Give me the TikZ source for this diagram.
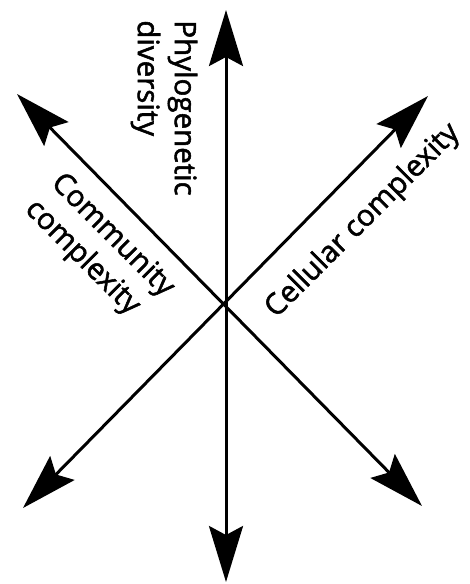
\documentclass[tikz,border=0pt]{standalone}
\usepackage{fontspec}
\setmainfont{Open Sans}[FakeBold=1.8]
\usetikzlibrary{arrows.meta}

\begin{document}
\begin{tikzpicture}[x=1pt,y=-1pt,line width=3pt,
  >={Stealth[length=56pt,width=34pt,inset=9pt]},
  every node/.style={font=\fontsize{29.5}{37}\selectfont,inner sep=0pt,align=left}]
\useasboundingbox (0,0) rectangle (470,584);

\coordinate (Pt) at (226,10);
\coordinate (Pb) at (226,582);
\coordinate (Mt) at (17,94);
\coordinate (Mb) at (422,506);
\coordinate (Ct) at (428,96);
\coordinate (Cb) at (23,508);

\draw[<->] (Pb) -- (Pt);
\draw[<->] (Mb) -- (Mt);
\draw[<->] (Cb) -- (Ct);

\node[rotate=-90] (phylo) at (164,108) {Phylogenetic\\diversity};
\node[rotate=-45] (comm) at (99,249) {Community\\complexity};
\node[rotate=45] (cell) at (363,221) {Cellular complexity};

\end{tikzpicture}
\end{document}
